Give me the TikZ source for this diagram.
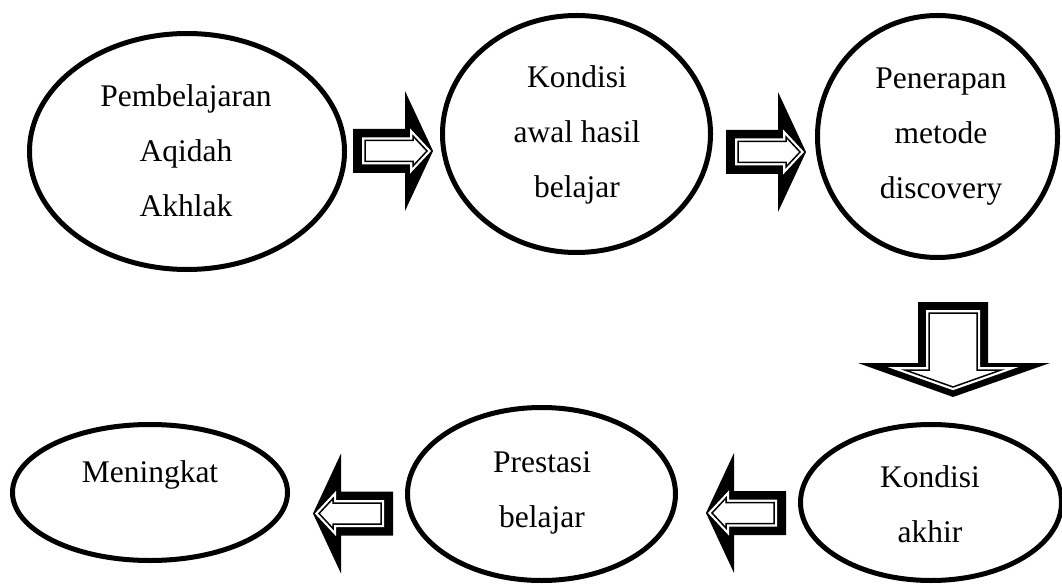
\documentclass[tikz,border=0pt]{standalone}
\usepackage{fontspec}
\setmainfont{Liberation Serif}
\usetikzlibrary{shapes.geometric}
\tikzset{
  bubble/.style={draw=black, ellipse, line width=5pt, inner sep=0pt},
  lbl/.style={anchor=base, inner sep=0pt, font=\fontsize{31.5}{40}\selectfont},
  pics/rarrow/.style={code={
    \fill[black] (0,-22) -- (52,-22) -- (52,-60) -- (80,0) -- (52,60) -- (52,22) -- (0,22) -- cycle;
    \draw[white, line width=6pt, line join=miter]
      (12,-10.5) -- (60,-10.5) -- (60,-15) -- (74,0) -- (60,15) -- (60,10.5) -- (12,10.5) -- cycle;
    \filldraw[fill=white, draw=black, line width=1.5pt, line join=miter]
      (12,-10.5) -- (60,-10.5) -- (60,-15) -- (74,0) -- (60,15) -- (60,10.5) -- (12,10.5) -- cycle;
  }}
}
\begin{document}
\begin{tikzpicture}[x=1pt, y=-1pt]
\useasboundingbox (0,0) rectangle (1062,585);

% ellipses
\node[bubble, minimum width=315pt, minimum height=236pt] (e1) at (187,151.5) {};
\node[bubble, minimum width=268pt, minimum height=237pt] (e2) at (576.5,134) {};
\node[bubble, minimum width=240pt, minimum height=242pt] (e3) at (937.5,136.5) {};
\node[bubble, minimum width=275pt, minimum height=136pt] (e4) at (150,492.5) {};
\node[bubble, minimum width=268pt, minimum height=173pt] (e5) at (541.5,494) {};
\node[bubble, minimum width=261pt, minimum height=156pt] (e6) at (931,502.5) {};

% texts
\node[lbl] (t1a) at (186,107) {Pembelajaran};
\node[lbl] (t1b) at (186,162) {Aqidah};
\node[lbl] (t1c) at (186,217) {Akhlak};
\node[lbl] (t2a) at (577,88) {Kondisi};
\node[lbl] (t2b) at (577,143) {awal hasil};
\node[lbl] (t2c) at (577,198) {belajar};
\node[lbl] (t3a) at (941,89) {Penerapan};
\node[lbl] (t3b) at (941,144) {metode};
\node[lbl] (t3c) at (941,199) {discovery};
\node[lbl] (t4a) at (150,482) {Meningkat};
\node[lbl] (t5a) at (542,472) {Prestasi};
\node[lbl] (t5b) at (542,527) {belajar};
\node[lbl] (t6a) at (930,487) {Kondisi};
\node[lbl] (t6b) at (930,542) {akhir};

% block arrows
\pic (a1) at (353,151) {rarrow};
\pic (a2) at (726,152) {rarrow};
\pic[rotate=180] (a4) at (786,513) {rarrow};
\pic[rotate=180] (a5) at (393,513.5) {rarrow};

% down arrow
\fill[black] (918,302) -- (988,302) -- (988,363) -- (1050,363) -- (953,397) -- (858,363) -- (918,363) -- cycle;
\draw[white, line width=6pt, line join=miter]
  (929,313) -- (977,313) -- (977,370) -- (1001,370) -- (953,387) -- (905,370) -- (929,370) -- cycle;
\filldraw[fill=white, draw=black, line width=1.5pt, line join=miter]
  (929,313) -- (977,313) -- (977,370) -- (1001,370) -- (953,387) -- (905,370) -- (929,370) -- cycle;
\end{tikzpicture}
\end{document}
